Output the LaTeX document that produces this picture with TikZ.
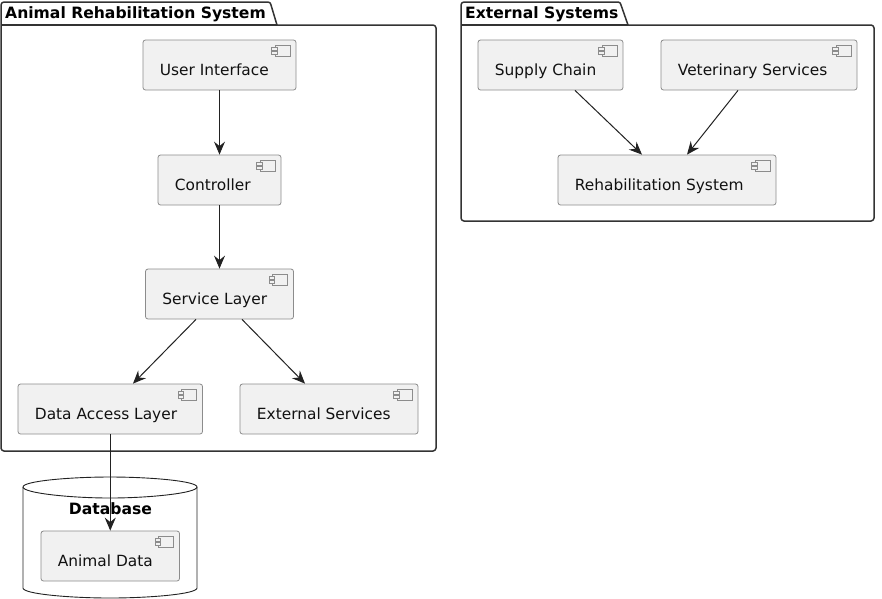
\documentclass[tikz,border=0pt]{standalone}
\usepackage{fontspec}
\setmainfont{DejaVu Sans}
\usetikzlibrary{arrows.meta}
\definecolor{boxfill}{HTML}{F1F1F1}
\definecolor{boxline}{HTML}{8C8C8C}
\definecolor{inkline}{HTML}{222222}
\definecolor{pkgline}{HTML}{333333}
\definecolor{inktext}{HTML}{111111}
\tikzset{
  x=1pt,y=-1pt,
  comp/.style={draw=boxline,fill=boxfill,rounded corners=2.5pt,line width=0.8pt,inner sep=0pt},
  comptext/.style={anchor=base west,inner sep=0pt,text=inktext,font=\fontsize{15.4}{18}\selectfont},
  iconline/.style={draw=boxline,fill=boxfill,line width=0.8pt},
  pkg/.style={draw=pkgline,line width=1.5pt,fill=white,line join=round},
  pkgtitle/.style={anchor=base west,inner sep=0pt,text=black,font=\fontsize{15.6}{18}\selectfont\bfseries},
  conn/.style={draw=inkline,line width=1pt,-{Stealth[length=13pt,width=11pt,inset=4.5pt]}},
}
\newcommand{\compbox}[6]{%
  \node[comp,minimum width=#4-#2,minimum height=#5-#3] (#1) at ({(#2+#4)/2},{(#3+#5)/2}) {};
  \path[iconline] (#4-21,#3+5.5) rectangle (#4-6,#3+16);
  \path[iconline] (#4-24.5,#3+7.5) rectangle (#4-19,#3+10);
  \path[iconline] (#4-24.5,#3+11.5) rectangle (#4-19,#3+14);
  \node[comptext] (#1t) at (#2+16.7,#3+35) {#6};
}
\begin{document}
\begin{tikzpicture}
\useasboundingbox (0,0) rectangle (882,598);
\fill[white] (0,0) rectangle (882,598);
% packages
\path[pkg] (1,25) -- (1,5) arc[start angle=180,end angle=270,radius=3] -- (268,2) arc[start angle=270,end angle=360,radius=3] -- (277,25) -- (433,25) arc[start angle=-90,end angle=0,radius=3] -- (436,448) arc[start angle=0,end angle=90,radius=3] -- (4,451) arc[start angle=90,end angle=180,radius=3] -- cycle;
\draw[pkg] (1,25) -- (277,25);
\node[pkgtitle] (pkgA) at (5,18) {Animal Rehabilitation System};
\path[pkg] (461,25) -- (461,5) arc[start angle=180,end angle=270,radius=3] -- (618,2) arc[start angle=270,end angle=360,radius=3] -- (628,25) -- (871,25) arc[start angle=-90,end angle=0,radius=3] -- (874,218) arc[start angle=0,end angle=90,radius=3] -- (464,221) arc[start angle=90,end angle=180,radius=3] -- cycle;
\draw[pkg] (461,25) -- (628,25);
\node[pkgtitle] (pkgB) at (465,18) {External Systems};
% database cylinder
\path[draw=inkline,line width=0.9pt,fill=white] (23,487) .. controls (23,481) and (70,477) .. (110,477) .. controls (150,477) and (197,481) .. (197,487) -- (197,588) .. controls (197,594) and (150,598) .. (110,598) .. controls (70,598) and (23,594) .. (23,588) -- cycle;
\draw[draw=inkline,line width=0.9pt] (23,487) .. controls (23,493) and (70,498) .. (110,498) .. controls (150,498) and (197,493) .. (197,487);
\node[pkgtitle,anchor=base] (dbt) at (110.5,514) {Database};
% components
\compbox{ui}{143}{40}{296}{90}{User Interface}
\compbox{ctl}{158}{155}{281}{205}{Controller}
\compbox{svc}{145.5}{269}{293.5}{319}{Service Layer}
\compbox{dal}{18}{384}{202.5}{434}{Data Access Layer}
\compbox{ext}{240}{384}{418}{434}{External Services}
\compbox{sup}{478}{40}{623}{90}{Supply Chain}
\compbox{vet}{661}{40}{857}{90}{Veterinary Services}
\compbox{reh}{558}{155}{776}{205}{Rehabilitation System}
\compbox{ani}{41}{531}{179.5}{581}{Animal Data}
% connectors
\draw[conn] (ui) -- (ctl);
\draw[conn] (ctl) -- (svc);
\draw[conn] ([xshift=-23.5pt]svc.south) -- ([xshift=22.75pt]dal.north);
\draw[conn] ([xshift=22.5pt]svc.south) -- ([xshift=-24pt]ext.north);
\draw[conn] ([xshift=24.5pt]sup.south) -- ([xshift=-25pt]reh.north);
\draw[conn] ([xshift=-21pt]vet.south) -- ([xshift=20pt]reh.north);
\draw[conn] (dal) -- (ani);
\end{tikzpicture}
\end{document}
